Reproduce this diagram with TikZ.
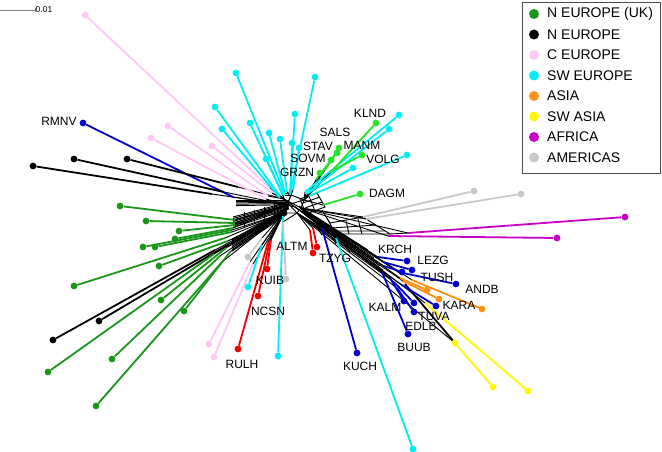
\documentclass[tikz,border=0pt]{standalone}
\usepackage{fontspec}
\setmainfont{Liberation Sans}
\definecolor{ukgreen}{RGB}{26,150,26}
\definecolor{ceurope}{RGB}{255,200,245}
\definecolor{sweurope}{RGB}{0,238,242}
\definecolor{asia}{RGB}{255,145,20}
\definecolor{swasia}{RGB}{255,248,0}
\definecolor{africa}{RGB}{200,0,200}
\definecolor{americas}{RGB}{200,200,200}
\definecolor{popblue}{RGB}{0,0,200}
\definecolor{popred}{RGB}{240,0,0}
\definecolor{popgreen}{RGB}{40,225,40}
\pgfdeclarelayer{netlayer}
\pgfdeclarelayer{pendlayer}
\pgfsetlayers{netlayer,pendlayer,main}
\tikzset{
  leaf/.style={circle, inner sep=0pt, minimum size=6.8pt},
  pend/.style={line width=1.8pt},
  net/.style={line width=0.9pt, black},
  lab/.style={font=\fontsize{12}{12}\selectfont, inner sep=0pt},
  key/.style={circle, inner sep=0pt, minimum size=10pt},
  keytext/.style={font=\fontsize{14}{14}\selectfont, inner sep=0pt, anchor=west},
}
% leaf/colour/leaf x/leaf y/end of colour x/y/hub
\def\leaflist{
  p1/ceurope/85/15/270/188/hA, p2/ceurope/168/126/268/196/hA,
  p3/ceurope/151/138/266/199/hC, p4/ceurope/212/146/272/193/hA,
  p5/ceurope/209/344/250/262/hD, p6/ceurope/214/357/253/264/hD,
  b1/popblue/83/123/233/197/hC, b2/popblue/357/353/322/228/hE,
  b3/popblue/407/261/378/257/hG, b4/popblue/412/270/383/262/hG,
  b5/popblue/402/272/384/266/hH, b6/popblue/456/284/398/272/hG,
  b7/popblue/436/306/402/285/hE, b8/popblue/404/301/390/278/hH,
  b9/popblue/414/303/394/282/hE, b10/popblue/414/312/397/288/hE,
  b11/popblue/408/334/382/272/hH,
  k1/black/33/166/212/194/hC, k2/black/74/159/224/192/hC,
  k3/black/127/159/238/187/hA, k4/black/53/340/215/250/hD,
  k5/black/99/321/229/244/hD,
  g1/ukgreen/120/206/235/220/hC, g2/ukgreen/146/221/235/223/hC,
  g3/ukgreen/179/231/235/225/hC, g4/ukgreen/175/239/233/228/hC,
  g5/ukgreen/143/247/232/230/hD, g6/ukgreen/155/247/232/232/hD,
  g7/ukgreen/74/286/225/238/hD, g8/ukgreen/159/266/228/241/hD,
  g9/ukgreen/161/300/226/248/hD, g10/ukgreen/184/311/230/252/hD,
  g11/ukgreen/112/359/220/256/hD, g12/ukgreen/48/372/214/254/hD,
  g13/ukgreen/96/406/222/262/hD,
  c1/sweurope/236/73/285/195/hB, c2/sweurope/315/77/290/195/hB,
  c3/sweurope/215/107/280/196/hA, c4/sweurope/295/114/290/192/hB,
  c5/sweurope/250/123/282/193/hA, c6/sweurope/222/129/280/198/hA,
  c7/sweurope/269/133/285/193/hB, c8/sweurope/280/139/287/192/hB,
  c9/sweurope/292/143/291/190/hB, c10/sweurope/299/148/293/190/hB,
  c11/sweurope/266/159/283/195/hA, c12/sweurope/399/115/305/192/hF,
  c13/sweurope/389/129/306/194/hF, c14/sweurope/407/155/309/196/hF,
  c15/sweurope/353/168/308/193/hF, c16/sweurope/248/287/262/245/hD,
  c17/sweurope/278/356/283/216/hD, c18/sweurope/413/449/336/238/hE,
  l1/popgreen/376/123/333/170/hF, l2/popgreen/339/148/325/170/hF,
  l3/popgreen/362/155/330/172/hF, l4/popgreen/337/153/322/172/hF,
  l5/popgreen/331/160/320/175/hF, l6/popgreen/320/173/316/180/hF,
  l7/popgreen/360/194/323/205/hF,
  r1/popred/313/253/310/230/hE, r2/popred/317/247/313/228/hE,
  r3/popred/267/269/271/240/hD, r4/popred/258/296/270/240/hD,
  r5/popred/238/349/268/242/hD,
  a1/americas/248/257/262/238/hD, a2/americas/286/279/283/222/hE,
  a3/americas/474/191/363/217/hG, a4/americas/521/194/366/219/hG,
  m1/africa/625/217/408/233/hG, m2/africa/557/238/388/236/hG,
  o1/asia/427/290/400/278/hG, o2/asia/439/299/403/281/hH,
  o3/asia/482/309/412/280/hG,
  y1/swasia/528/391/425/303/hG, y2/swasia/493/387/455/343/hE}

\begin{document}
\begin{tikzpicture}[x=1pt,y=-1pt]
\useasboundingbox (0,0) rectangle (662,452);
% hubs of the network
\coordinate (hA) at (284,199);
\coordinate (hB) at (291,195);
\coordinate (hC) at (287,205);
\coordinate (hD) at (284,213);
\coordinate (hE) at (297,213);
\coordinate (hF) at (304,200);
\coordinate (hG) at (301,208);
\coordinate (hH) at (295,207);
% scale bar
\coordinate (s0) at (0,10);
\coordinate (s1) at (35,10);
\draw[gray, line width=0.8pt] (s0) -- (s1) ++(0,-2) -- ++(0,4);
\node[font=\fontsize{8.5}{9}\selectfont, inner sep=0pt, anchor=west] (sc) at (35.5,10) {0.01};
% draws leaves and pendant edges
\foreach \n/\c/\lx/\ly/\ax/\ay/\h in \leaflist {
  \node[leaf, fill=\c] (lf\n) at (\lx,\ly) {};
  \coordinate (at\n) at (\ax,\ay);
  \begin{pgfonlayer}{pendlayer}
    \draw[pend, \c] (lf\n) -- (at\n);
  \end{pgfonlayer}
  \begin{pgfonlayer}{netlayer}
    \draw[net] (at\n) -- (\h);
  \end{pgfonlayer}
}
\node[leaf, fill=swasia] (y0) at (455,343) {};
\coordinate (yk) at (405,284);
\begin{pgfonlayer}{netlayer}
\draw[pend, black] (y0) -- (yk);
% draws splits
\draw[net] (hA) -- (hH) -- (hC) -- (hB) -- (hF) -- (hG) -- (hE) -- (hD) -- (hC);
\draw[net] (hA) -- (hE) (hB) -- (hD) (hA) -- (hG) (hC) -- (hF);
\foreach \i in {0,...,7} {
  \draw[net] (233,{217+\i*1.5}) -- (289,{202+\i*1.0});
  \draw[net] ({299+\i*0.8},{206+\i*1.2}) -- ({368+\i*3},{250+\i*4});
  \draw[net] (232,{240+\i*1.6}) -- (287,{208+\i*0.9});
}
\foreach \i in {0,...,4}
  \draw[net] (236,{200+\i*1.4}) -- (286,{200+\i*1.2});
\foreach \x in {244,254,264,274} \draw[net] (\x,{215-(\x-234)*0.27}) -- (\x,{229-(\x-234)*0.25});
\foreach \x in {318,332,346} \draw[net] (\x,{217+(\x-300)*0.62}) -- ({\x+4},{224+(\x-300)*0.62});
% first ladder
\draw[net] (300,199) -- (317,193) -- (325,207) -- (306,214) -- cycle;
\draw[net] (303,203) -- (320,197) (305,208) -- (322,202) (309,196) -- (315,211);
% second ladder
\draw[net] (322,210) -- (330,223) -- (363,217) -- (390,234) -- (336,234) -- cycle;
\draw[net] (332,228) -- (376,225) (334,231) -- (385,231) (346,221) -- (349,234) (358,219) -- (362,234);
\draw[net] (390,234) -- (408,233);
\end{pgfonlayer}
% labels
\foreach \t/\x/\y in {RMNV/59/121, KLND/370/113, SALS/335/132, STAV/318/146,
  MANM/362/145, VOLG/383/159, SOVM/308/158, GRZN/297/172, DAGM/387/193,
  ALTM/292/246, TZYG/335/258, KUIB/270/280, NCSN/268/311, RULH/242/364,
  KUCH/360/366, KRCH/395/249, LEZG/433/260, TUSH/437/277, ANDB/482/289,
  KARA/459/305, KALM/385/307, TUVA/434/316, EDLB/421/326, BUUB/414/347}
  \node[lab] (t\t) at (\x,\y) {\t};
% legend
\draw[line width=0.6pt, black!70] (522,2) rectangle (660,173);
\foreach \c/\t [count=\i] in {ukgreen/N EUROPE (UK), black/N EUROPE,
  ceurope/C EUROPE, sweurope/SW EUROPE, asia/ASIA, swasia/SW ASIA,
  africa/AFRICA, americas/AMERICAS} {
  \node[key, fill=\c] (key\i) at (534,{14+(\i-1)*20.5}) {};
  \node[keytext] (keyt\i) at (547,{14+(\i-1)*20.5}) {\t};
}
\end{tikzpicture}
\end{document}
